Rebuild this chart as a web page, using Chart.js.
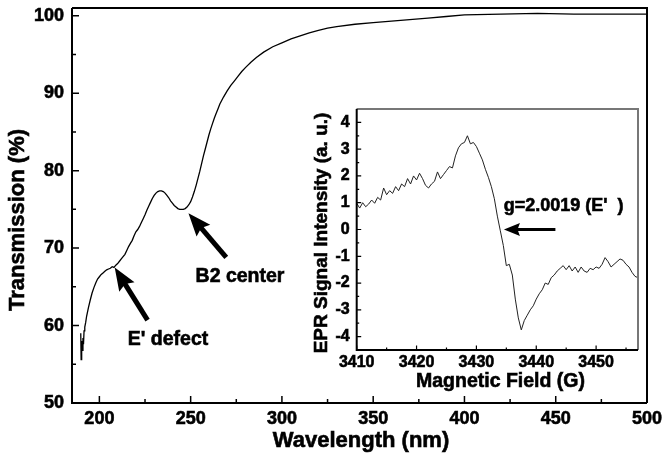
<!DOCTYPE html>
<html>
<head>
<meta charset="utf-8">
<script src="https://cdn.jsdelivr.net/npm/chart.js@4.4.1/dist/chart.umd.min.js"></script>
<style>
  html, body { margin: 0; padding: 0; background: #fff; }
  #wrap { position: relative; width: 664px; height: 457px; }
  #main { position: absolute; left: 0; top: 0; }
  #inset { position: absolute; left: 300px; top: 95px; }
</style>
</head>
<body>
<div id="wrap">
  <canvas id="main" width="664" height="457"></canvas>
  <canvas id="inset" width="350" height="305"></canvas>
</div>
<script>
// main spectrum: transmission vs wavelength
const wavelength = [189.8, 190.0, 190.3, 190.6, 191.0, 191.3, 191.6, 192.0, 192.5, 193, 194, 195, 196, 197, 198, 199,
  200, 201, 202, 203, 204, 205, 206, 207, 208, 209, 210, 211, 212, 213, 214, 215, 216, 217, 218, 219,
  220, 221, 222, 223, 224, 225, 226, 227, 228, 229, 230, 231, 232, 233, 234, 235, 236, 237, 238, 239,
  240, 241, 242, 243, 244, 245, 246, 247, 248, 249, 250, 251, 252, 253, 254, 255, 256, 257, 258, 259,
  260, 261, 262, 263, 264, 265, 266, 268, 270, 272, 274, 276, 278, 280, 283, 286, 290, 295, 300, 305,
  310, 315, 320, 325, 330, 340, 350, 360, 370, 380, 390, 400, 420, 440, 460, 480, 500];
const transmission = [59.0, 55.6, 58.0, 56.8, 58.4, 57.6, 59.3, 59.8, 60.4, 61.2, 62.3, 63.3, 64.2, 64.9, 65.5, 66.0,
  66.3, 66.6, 66.8, 67.0, 67.2, 67.3, 67.4, 67.6, 67.5, 67.8, 68.0, 68.3, 68.6, 68.9, 69.2, 69.7, 70.2, 70.6, 71.0, 71.6,
  72.1, 72.4, 72.8, 73.3, 73.8, 74.3, 74.9, 75.4, 75.9, 76.4, 76.8, 77.1, 77.3, 77.4, 77.4, 77.3, 77.1, 76.8, 76.5, 76.1,
  75.8, 75.5, 75.3, 75.1, 75.0, 75.0, 75.0, 75.1, 75.3, 75.6, 76.0, 76.6, 77.3, 78.1, 79.0, 79.9, 80.9, 81.9, 82.8, 83.7,
  84.6, 85.4, 86.1, 86.8, 87.4, 88.0, 88.6, 89.5, 90.3, 91.0, 91.6, 92.2, 92.8, 93.3, 94.0, 94.6, 95.3, 96.0, 96.5, 97.0,
  97.4, 97.8, 98.1, 98.4, 98.6, 98.9, 99.1, 99.3, 99.5, 99.7, 99.9, 100.1, 100.2, 100.3, 100.2, 100.2, 100.2];
const xTicks = [200, 250, 300, 350, 400, 450, 500];
const xMinor = [225, 275, 325, 375, 425, 475];
const yTicks = [50, 60, 70, 80, 90, 100];
const yMinor = [55, 65, 75, 85, 95];

// inset: EPR derivative signal vs magnetic field
const fieldG = [3410, 3410.5, 3411, 3411.5, 3412, 3412.5, 3413, 3413.5, 3414, 3414.5, 3415, 3415.5, 3416, 3416.5,
  3417, 3417.5, 3418, 3418.5, 3419, 3419.5, 3420, 3420.5, 3421, 3421.5, 3422, 3422.5, 3423, 3423.5, 3424, 3424.5,
  3425, 3425.5, 3426, 3426.5, 3427, 3427.5, 3428, 3428.5, 3429, 3429.5, 3430, 3430.5, 3431, 3431.5, 3432, 3432.5,
  3433, 3433.5, 3434, 3434.5, 3435, 3435.5, 3436, 3436.5, 3437, 3437.5, 3438, 3438.5, 3439, 3439.5, 3440, 3440.5,
  3441, 3441.5, 3442, 3442.5, 3443, 3443.5, 3444, 3444.5, 3445, 3445.5, 3446, 3446.5, 3447, 3447.5, 3448, 3448.5,
  3449, 3449.5, 3450, 3450.5, 3451, 3451.5, 3452, 3452.5, 3453, 3453.5, 3454, 3454.5, 3455, 3455.5, 3456, 3456.5, 3457];
const eprSignal = [0.98, 0.8, 1.0, 0.85, 0.95, 1.1, 0.98, 1.2, 1.1, 1.55, 1.3, 1.45, 1.35, 1.6,
  1.45, 1.7, 1.6, 1.9, 1.7, 2.0, 1.85, 2.1, 1.9, 1.65, 1.55, 1.7, 1.8, 2.15, 1.9, 2.05,
  2.2, 2.35, 2.3, 2.75, 3.05, 3.2, 3.25, 3.5, 3.2, 3.25, 3.1, 2.85, 2.6, 2.25, 1.95, 1.6,
  1.15, 0.5, -0.05, -0.6, -1.35, -1.3, -1.7, -2.6, -3.3, -3.75, -3.4, -3.2, -3.0, -2.85, -2.6, -2.4,
  -2.25, -2.0, -2.05, -1.8, -1.7, -1.55, -1.45, -1.35, -1.5, -1.35, -1.55, -1.4, -1.6, -1.4, -1.55, -1.6,
  -1.45, -1.5, -1.4, -1.45, -1.3, -1.05, -1.2, -1.4, -1.3, -1.2, -1.1, -1.15, -1.3, -1.4, -1.6, -1.75, -1.8];
const bTicks = [3410, 3420, 3430, 3440, 3450];
const bMinor = [3415, 3425, 3435, 3445, 3455];
const sTicks = [-4, -3, -2, -1, 0, 1, 2, 3, 4];
const sMinor = [-4.5, -3.5, -2.5, -1.5, -0.5, 0.5, 1.5, 2.5, 3.5, 4.5];

const FONT = '"Liberation Sans", Arial, Helvetica, sans-serif';

function drawArrow(ctx, x1, y1, x2, y2, shaft, headLen, headW) {
  const a = Math.atan2(y2 - y1, x2 - x1);
  const bx = x2 - headLen * Math.cos(a), by = y2 - headLen * Math.sin(a);
  const nx = Math.sin(a), ny = -Math.cos(a);
  ctx.save();
  ctx.strokeStyle = '#000';
  ctx.fillStyle = '#000';
  ctx.lineWidth = shaft;
  ctx.beginPath();
  ctx.moveTo(x1, y1);
  ctx.lineTo(bx + headLen * 0.2 * Math.cos(a), by + headLen * 0.2 * Math.sin(a));
  ctx.stroke();
  ctx.beginPath();
  ctx.moveTo(x2, y2);
  ctx.lineTo(bx + nx * headW / 2, by + ny * headW / 2);
  ctx.lineTo(bx + headLen * 0.15 * Math.cos(a), by + headLen * 0.15 * Math.sin(a));
  ctx.lineTo(bx - nx * headW / 2, by - ny * headW / 2);
  ctx.closePath();
  ctx.fill();
  ctx.restore();
}

function drawText(ctx, text, x, y, size, rot, align) {
  ctx.save();
  ctx.translate(x, y);
  if (rot) ctx.rotate(rot);
  ctx.font = 'bold ' + size + 'px ' + FONT;
  ctx.fillStyle = '#000';
  ctx.strokeStyle = '#000';
  ctx.lineWidth = 0.6;
  ctx.textAlign = align || 'center';
  ctx.textBaseline = 'middle';
  ctx.fillText(text, 0, 0);
  ctx.strokeText(text, 0, 0);
  ctx.restore();
}

// inward tick marks, tick labels and frame
function axes(ctx, chart, cfg) {
  const { chartArea: a, scales: { x, y } } = chart;
  ctx.save();
  ctx.strokeStyle = '#000';
  ctx.lineWidth = cfg.tickW;
  ctx.beginPath();
  cfg.xMajor.forEach(v => { const p = x.getPixelForValue(v); ctx.moveTo(p, a.bottom); ctx.lineTo(p, a.bottom - cfg.major); });
  cfg.xMinor.forEach(v => { const p = x.getPixelForValue(v); ctx.moveTo(p, a.bottom); ctx.lineTo(p, a.bottom - cfg.minor); });
  cfg.yMajor.forEach(v => { const p = y.getPixelForValue(v); ctx.moveTo(a.left, p); ctx.lineTo(a.left + cfg.major, p); });
  cfg.yMinor.forEach(v => { const p = y.getPixelForValue(v); ctx.moveTo(a.left, p); ctx.lineTo(a.left + cfg.minor, p); });
  ctx.stroke();
  ctx.strokeStyle = cfg.edgeColor;
  ctx.lineWidth = cfg.frameW;
  ctx.beginPath();
  ctx.moveTo(a.left, a.top);
  ctx.lineTo(a.right, a.top);
  ctx.lineTo(a.right, a.bottom);
  ctx.stroke();
  ctx.strokeStyle = '#000';
  ctx.beginPath();
  ctx.moveTo(a.left, a.top);
  ctx.lineTo(a.left, a.bottom);
  ctx.lineTo(a.right, a.bottom);
  ctx.stroke();
  ctx.restore();
  cfg.xMajor.forEach(v => drawText(ctx, String(v), x.getPixelForValue(v), a.bottom + cfg.xLabelGap, cfg.labelSize));
  cfg.yMajor.forEach(v => drawText(ctx, String(v), a.left - cfg.yLabelGap, y.getPixelForValue(v), cfg.labelSize, 0, 'right'));
}

const mainDecor = {
  id: 'mainDecor',
  afterDraw(chart) {
    const { ctx, scales: { x, y } } = chart;
    axes(ctx, chart, { xMajor: xTicks, xMinor: xMinor, yMajor: yTicks, yMinor: yMinor,
      major: 7, minor: 4, tickW: 1.5, frameW: 2, edgeColor: '#000',
      labelSize: 18, xLabelGap: 16, yLabelGap: 8 });
    drawText(ctx, 'Wavelength (nm)', 361, 441, 22);
    drawText(ctx, 'Transmission (%)', 18, 220, 22, -Math.PI / 2);
    drawArrow(ctx, x.getPixelForValue(226.4), y.getPixelForValue(60.7),
      x.getPixelForValue(208.4), y.getPixelForValue(67.5), 5, 23, 18);
    drawArrow(ctx, x.getPixelForValue(269.5), y.getPixelForValue(68.8),
      x.getPixelForValue(248.8), y.getPixelForValue(74.5), 5, 23, 18);
    drawText(ctx, "E' defect", 168, 340, 19.5);
    drawText(ctx, 'B2 center', 240, 277, 19.5);
  }
};

const insetDecor = {
  id: 'insetDecor',
  afterDraw(chart) {
    const { ctx, scales: { x, y } } = chart;
    axes(ctx, chart, { xMajor: bTicks, xMinor: bMinor, yMajor: sTicks, yMinor: sMinor,
      major: 4.5, minor: 2.5, tickW: 1.2, frameW: 2, edgeColor: '#777',
      labelSize: 16, xLabelGap: 12.5, yLabelGap: 7 });
    drawText(ctx, 'Magnetic Field (G)', 200.5, 287, 19.5);
    drawText(ctx, 'EPR Signal Intensity (a. u.)', 22, 138, 19, -Math.PI / 2);
    drawArrow(ctx, x.getPixelForValue(3443.2), y.getPixelForValue(0),
      x.getPixelForValue(3434.6), y.getPixelForValue(0), 3, 16, 13);
    drawText(ctx, "g=2.0019 (E'  )", x.getPixelForValue(3434.55), y.getPixelForValue(0.88), 18, 0, 'left');
  }
};

function fitBox(w, h) {
  return scale => {
    if (w !== null) scale.width = w;
    if (h !== null) scale.height = h;
    scale.paddingTop = 0; scale.paddingBottom = 0;
    scale.paddingLeft = 0; scale.paddingRight = 0;
  };
}

function axisOpts(min, max, w, h) {
  return {
    type: 'linear', min: min, max: max,
    afterFit: fitBox(w, h),
    grid: { display: false, drawTicks: false },
    border: { display: false },
    ticks: { display: false }
  };
}

new Chart(document.getElementById('main'), {
  type: 'line',
  data: {
    datasets: [{
      data: wavelength.map((w, i) => ({ x: w, y: transmission[i] })),
      borderColor: '#000',
      borderWidth: 1.3,
      pointRadius: 0,
      tension: 0,
      fill: false
    }]
  },
  options: {
    responsive: false,
    animation: false,
    devicePixelRatio: 1,
    layout: { padding: { left: 0, top: 8, right: 17, bottom: 0 } },
    plugins: { legend: { display: false }, tooltip: { enabled: false } },
    scales: {
      x: axisOpts(185, 500, null, 54),
      y: axisOpts(50, 101, 72, null)
    }
  },
  plugins: [mainDecor]
});

new Chart(document.getElementById('inset'), {
  type: 'line',
  data: {
    datasets: [{
      data: fieldG.map((b, i) => ({ x: b, y: eprSignal[i] })),
      borderColor: '#222',
      borderWidth: 1,
      pointRadius: 0,
      tension: 0,
      fill: false
    }]
  },
  options: {
    responsive: false,
    animation: false,
    devicePixelRatio: 1,
    layout: { padding: { left: 0, top: 14, right: 12, bottom: 0 } },
    plugins: { legend: { display: false }, tooltip: { enabled: false } },
    scales: {
      x: axisOpts(3410, 3457, null, 50),
      y: axisOpts(-4.5, 4.5, 56.7, null)
    }
  },
  plugins: [insetDecor]
});
</script>
</body>
</html>
